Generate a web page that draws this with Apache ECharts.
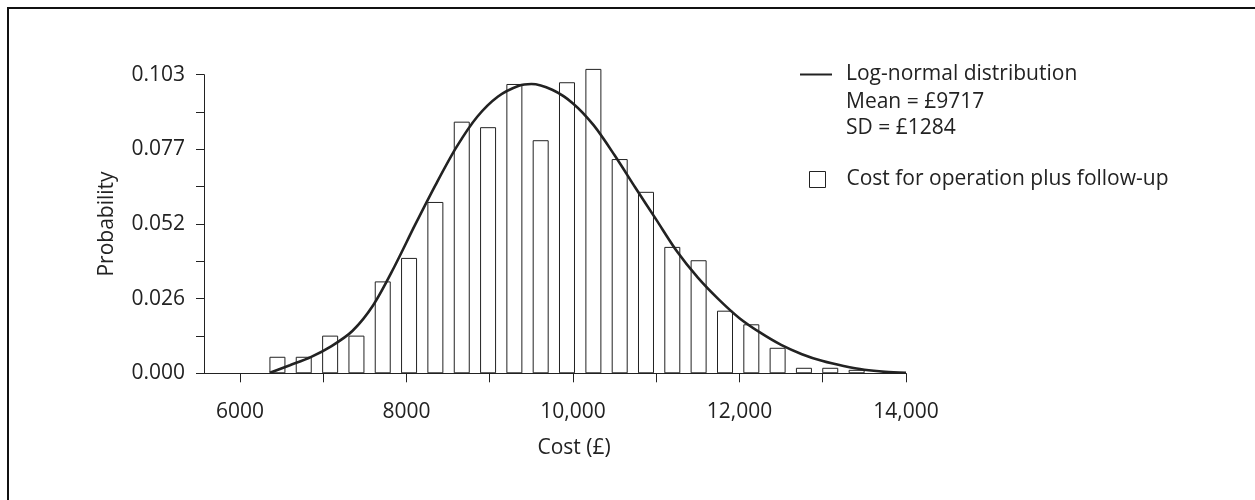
<!DOCTYPE html>
<html><head><meta charset="utf-8">
<script src="https://cdn.jsdelivr.net/npm/echarts@6/dist/echarts.min.js"></script>
<style>html,body{margin:0;padding:0;background:#fff}#c{width:1255px;height:500px}</style>
</head><body><div id="c"></div>
<script>
// Histogram bins (bin centre in £) and probabilities
const binCenters = [6450, 6766, 7083, 7399, 7715, 8031, 8347, 8664, 8980, 9296, 9612, 9928, 10245, 10561, 10877, 11193, 11509, 11826, 12142, 12458, 12774, 13090, 13407];
const binProb = [0.0057, 0.0057, 0.0130, 0.0130, 0.0317, 0.0398, 0.0591, 0.0868, 0.0849, 0.0998, 0.0804, 0.1004, 0.1050, 0.0739, 0.0626, 0.0436, 0.0390, 0.0216, 0.0169, 0.0088, 0.0019, 0.0019, 0.0012];
// Log-normal curve
const curveX = [6360, 6600, 6850, 7100, 7350, 7600, 7850, 8100, 8350, 8600, 8850, 9100, 9350, 9500, 9750, 10000, 10250, 10500, 10750, 11000, 11250, 11500, 11750, 12000, 12250, 12500, 12750, 13000, 13250, 13500, 13750, 14000];
const curveY = [0.0002, 0.0028, 0.0056, 0.0094, 0.0146, 0.0235, 0.0365, 0.0510, 0.0650, 0.0780, 0.0885, 0.0955, 0.0992, 0.0998, 0.0978, 0.0931, 0.0855, 0.0752, 0.0640, 0.0530, 0.0420, 0.0330, 0.0255, 0.0190, 0.0140, 0.0098, 0.0066, 0.0042, 0.0025, 0.0012, 0.0005, 0.0002];
// Axis ticks and labels
const xTickValues = [6000, 7000, 8000, 9000, 10000, 11000, 12000, 13000, 14000];
const xLabelValues = [6000, 8000, 10000, 12000, 14000];
const xLabelTexts = ['6000', '8000', '10,000', '12,000', '14,000'];
const yTickValues = [0, 0.012875, 0.02575, 0.038625, 0.0515, 0.064375, 0.07725, 0.090125, 0.103];
const yLabelValues = [0, 0.02575, 0.0515, 0.07725, 0.103];
const yLabelTexts = ['0.000', '0.026', '0.052', '0.077', '0.103'];
const lineName = 'Log-normal distribution';
const barName = 'Cost for operation plus follow-up';
const statLines = ['Mean = £9717', 'SD = £1284'];

function nearestLabel(v, vals, texts) {
  let best = 0;
  for (let i = 1; i < vals.length; i++) if (Math.abs(vals[i] - v) < Math.abs(vals[best] - v)) best = i;
  return texts[best];
}

const FONT = '"Open Sans"';
const FS = 21;
const INK = '#222';
const chart = echarts.init(document.getElementById('c'), null, { renderer: 'canvas' });
chart.setOption({
  animation: false,
  backgroundColor: '#fff',
  textStyle: { fontFamily: FONT, color: INK },
  grid: { left: 204, right: 349, top: 74.7, bottom: 126.7, containLabel: false },
  xAxis: {
    type: 'value', min: 5568, max: 14000,
    name: 'Cost (£)', nameLocation: 'middle', nameGap: 64,
    nameTextStyle: { fontSize: FS, color: INK, fontFamily: FONT, padding: [0, 0, 0, 38] },
    axisLine: { show: true, onZero: false, lineStyle: { color: INK, width: 1 } },
    axisTick: { show: true, inside: false, length: 9, customValues: xTickValues, lineStyle: { color: INK, width: 1 } },
    axisLabel: { customValues: xLabelValues, margin: 28, fontSize: FS, color: INK, fontFamily: FONT,
      formatter: v => nearestLabel(v, xLabelValues, xLabelTexts) },
    splitLine: { show: false }
  },
  yAxis: {
    type: 'value', min: 0, max: 0.103,
    name: 'Probability', nameLocation: 'middle', nameGap: 86, nameRotate: 90,
    nameTextStyle: { fontSize: FS, color: INK, fontFamily: FONT },
    axisLine: { show: true, lineStyle: { color: INK, width: 1 } },
    axisTick: { show: true, inside: false, length: 8, customValues: yTickValues, lineStyle: { color: INK, width: 1 } },
    axisLabel: { customValues: yLabelValues, margin: 19, fontSize: FS, color: INK, fontFamily: FONT,
      formatter: v => nearestLabel(v, yLabelValues, yLabelTexts) },
    splitLine: { show: false }
  },
  legend: [
    { left: 800, top: 64, padding: 0, selectedMode: false, itemWidth: 32, itemHeight: 2,
      data: [{ name: lineName, icon: 'rect', itemStyle: { color: INK, borderWidth: 0 } }],
      textStyle: { fontSize: FS, color: INK, fontFamily: FONT, padding: [0, 0, 0, 9] } },
    { left: 809, top: 169, padding: 0, selectedMode: false, itemWidth: 16, itemHeight: 16,
      data: [{ name: barName, icon: 'rect', itemStyle: { color: '#fff', borderColor: INK, borderWidth: 1 } }],
      textStyle: { fontSize: FS, color: INK, fontFamily: FONT, padding: [0, 0, 0, 16] } }
  ],
  graphic: [
    { type: 'rect', silent: true, z: -10, shape: { x: 8, y: 8, width: 1400, height: 700 },
      style: { fill: 'none', stroke: '#111', lineWidth: 2 } },
    { type: 'text', left: 846, top: 92, silent: true,
      style: { text: statLines[0], font: FS + 'px ' + FONT, fill: INK } },
    { type: 'text', left: 846, top: 118, silent: true,
      style: { text: statLines[1], font: FS + 'px ' + FONT, fill: INK } }
  ],
  series: [
    { name: barName, type: 'bar', clip: false, barWidth: 16,
      data: binCenters.map((x, i) => [x, binProb[i]]),
      itemStyle: { color: '#fff', borderColor: INK, borderWidth: 1 }, z: 2 },
    { name: lineName, type: 'line', smooth: 0.3, showSymbol: false, symbol: 'none',
      data: curveX.map((x, i) => [x, curveY[i]]),
      lineStyle: { color: INK, width: 2.6 }, itemStyle: { color: INK }, z: 3 }
  ]
});
</script></body></html>
